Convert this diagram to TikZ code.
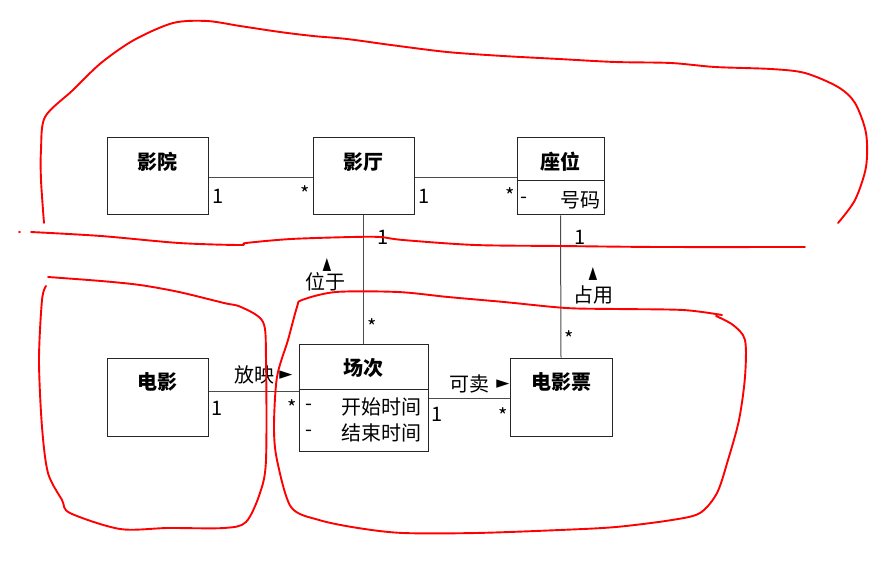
\documentclass[tikz,border=0pt]{standalone}
\usepackage{fontspec}
\setmainfont{Noto Sans CJK SC}
\newfontfamily\symfont{DejaVu Sans}
\usetikzlibrary{positioning,calc}

\begin{document}
\begin{tikzpicture}[
  x=1pt, y=-1pt,
  font=\fontsize{20}{22}\selectfont,
  line width=1pt,
  umlbox/.style={draw=black!85, fill=white, inner sep=0pt},
  title/.style={font=\fontsize{20}{22}\selectfont\bfseries, inner sep=0pt},
  attr/.style={inner sep=0pt},
  mult/.style={inner sep=0pt},
  tri/.style={font=\symfont\fontsize{17}{17}\selectfont, inner sep=0pt},
  assoc/.style={draw=black!70},
  hand/.style={draw=red, line width=1.9pt, line join=round, line cap=round},
]
\useasboundingbox (0,0) rectangle (871,583);

% classes
\node[umlbox, minimum width=101, minimum height=77] (yingyuan) at (157.5,176.5) {};
\node[umlbox, minimum width=101, minimum height=77] (yingting) at (363.5,176.5) {};
\node[umlbox, minimum width=87, minimum height=77] (zuowei) at (560.5,176.5) {};
\node[umlbox, minimum width=101, minimum height=78] (dianying) at (157.5,397) {};
\node[umlbox, minimum width=129, minimum height=107] (changci) at (363.5,397.5) {};
\node[umlbox, minimum width=102, minimum height=78] (piao) at (561,397) {};

\draw[draw=black!85] (zuowei.west |- 0,181) -- (zuowei.east |- 0,181);
\draw[draw=black!85] (changci.west |- 0,389) -- (changci.east |- 0,389);

\node[title] (tyingyuan) at (157,162) {影院};
\node[title] (tyingting) at (363,162) {影厅};
\node[title] (tzuowei) at (560,162) {座位};
\node[title] (tdianying) at (157,382) {电影};
\node[title] (tchangci) at (363,368) {场次};
\node[title] (tpiao) at (561,382) {电影票};

% attributes
\node[attr] (az0) at (524,200) {-};
\node[attr, anchor=east] (az1) at (601,200) {号码};
\node[attr] (ac0) at (309,407) {-};
\node[attr, anchor=east] (ac1) at (422,407) {开始时间};
\node[attr] (ac2) at (309,433) {-};
\node[attr, anchor=east] (ac3) at (422,433) {结束时间};

% associations
\draw[assoc] (yingyuan.east |- 0,178) -- (yingting.west |- 0,178);
\draw[assoc] (yingting.east |- 0,178) -- (zuowei.west |- 0,178);
\draw[assoc] (yingting.south) -- (changci.north);
\draw[assoc] (zuowei.south) -- (piao.north);
\draw[assoc] (dianying.east |- 0,391) -- (changci.west |- 0,391);
\draw[assoc] (changci.east |- 0,398) -- (piao.west |- 0,398);

% multiplicities
\node[mult] (m1) at (218,196) {1};
\node[mult] (m2) at (305,194) {*};
\node[mult] (m3) at (424,196) {1};
\node[mult] (m4) at (510,196) {*};
\node[mult] (m5) at (383,237) {1};
\node[mult] (m6) at (372,327) {*};
\node[mult] (m7) at (580,237) {1};
\node[mult] (m8) at (569,339) {*};
\node[mult] (m9) at (217,408) {1};
\node[mult] (m10) at (292,408) {*};
\node[mult] (m11) at (437,414) {1};
\node[mult] (m12) at (503,416) {*};

% association names
\node[attr] (lweiyu) at (325,282) {位于};
\node[tri] (aweiyu) at (327,265) {\rotatebox{90}{►}};
\node[attr] (lzhanyong) at (593,295) {占用};
\node[tri] (azhanyong) at (593,274) {\rotatebox{90}{►}};
\node[attr] (lfangying) at (254,375) {放映};
\node[tri] (afangying) at (286,375) {►};
\node[attr] (lkemai) at (469,384) {可卖};
\node[tri] (akemai) at (503,384) {►};

% hand drawn grouping
\draw[hand] plot[smooth, tension=0.5] coordinates {(44,223) (41,180) (41,150) (45,117) (73,90) (101,63) (134,40) (173,23) (207,21) (240,26) (280,32) (313,36) (347,39) (391,45) (447,52) (503,56) (559,59) (615,62) (671,63) (715,67) (771,69) (805,73) (838,87) (855,103) (866,133) (866,167) (855,200) (838,223)};
\draw[hand] (19,232) -- (20,232);
\draw[hand] plot[smooth, tension=0.5] coordinates {(31,232) (101,236) (179,243) (240,245) (246,243) (291,239) (352,237) (380,237) (403,240) (475,245) (560,246) (660,247) (805,247)};
\draw[hand] plot[smooth, tension=0.5] coordinates {(48,277) (101,281) (140,285) (179,292) (224,303) (241,307) (263,322) (266,360) (266,460) (260,493) (246,522) (224,528) (168,528) (120,529) (70,513) (62,500) (48,473) (42,427) (39,360) (42,300) (46,286)};
\draw[hand] plot[smooth, tension=0.5] coordinates {(722,315) (683,310) (616,309) (566,308) (504,302) (448,297) (398,292) (336,292) (302,300) (297,307) (288,340) (277,377) (274,427) (277,460) (291,507) (319,520) (358,528) (403,533) (476,533) (560,530) (616,527) (672,520) (700,513) (717,493) (728,460) (739,420) (745,377) (745,340) (733,325) (716,316)};
\end{tikzpicture}
\end{document}
